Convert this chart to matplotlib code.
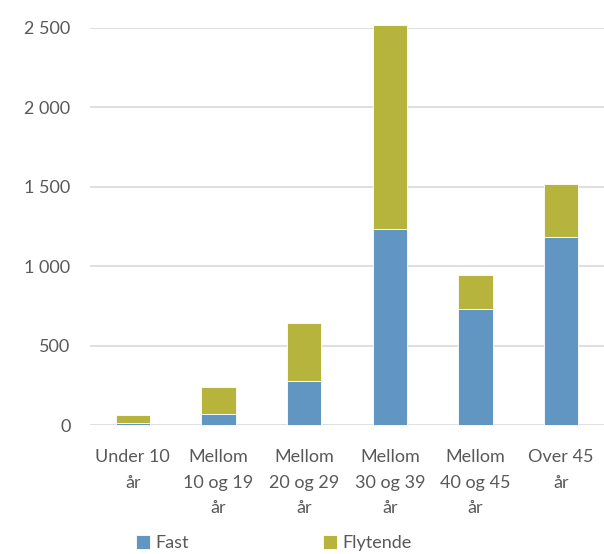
import matplotlib.pyplot as plt
import numpy as np
from matplotlib.ticker import FuncFormatter

categories = ["Under 10\når", "Mellom\n10 og 19\når", "Mellom\n20 og 29\når",
              "Mellom\n30 og 39\når", "Mellom\n40 og 45\når", "Over 45\når"]
fast = [16, 73, 281, 1235, 734, 1187]
flytende = [49, 170, 361, 1282, 214, 334]

blue = "#6195C2"
olive = "#B6B43D"
grey = "#595959"

plt.rcParams['font.family'] = ['Lato', 'DejaVu Sans']

fig = plt.figure(figsize=(6.04, 5.54), dpi=100)
ax = fig.add_axes([0.149, 0.2323, 0.851, 0.7172])

x = np.arange(len(categories))
width = 0.4
ax.bar(x, fast, width, color=blue, edgecolor="white", linewidth=0.6,
       label="Fast", zorder=3, clip_on=False)
ax.bar(x, flytende, width, bottom=fast, color=olive, edgecolor="white",
       linewidth=0.6, label="Flytende", zorder=3, clip_on=False)

ax.set_xlim(-0.5, len(categories) - 0.5)
ax.set_ylim(0, 2500)
ax.set_yticks(np.arange(0, 2501, 500))
ax.yaxis.set_major_formatter(FuncFormatter(lambda v, p: f"{int(v):,}".replace(",", " ")))
ax.grid(axis="y", color="#D9D9D9", linewidth=1.2, zorder=0)
for s in ax.spines.values():
    s.set_visible(False)
ax.tick_params(axis="both", length=0, labelsize=13, labelcolor=grey)
ax.tick_params(axis="y", pad=14)
ax.tick_params(axis="x", pad=17)
ax.set_xticks(x, categories, linespacing=1.75)

ax.legend(loc="center", bbox_to_anchor=(0.358, -0.296), ncols=2, frameon=False,
          fontsize=13, handlelength=0.8, handleheight=0.8, handletextpad=0.3,
          columnspacing=7.4, labelcolor=grey)

fig.savefig("out.png", dpi=100)
